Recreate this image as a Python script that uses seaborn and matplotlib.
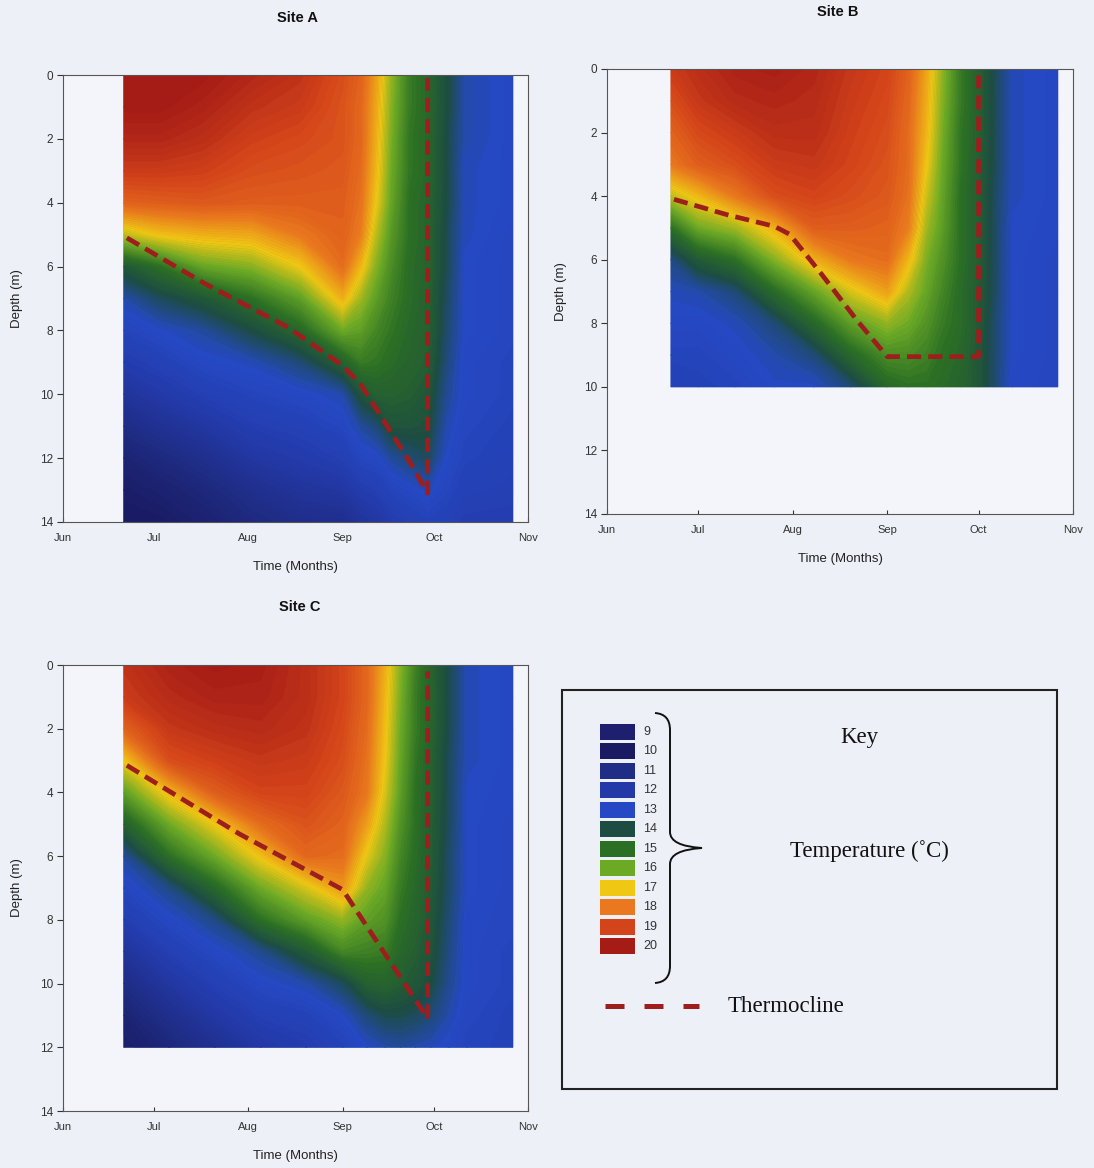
import numpy as np
import matplotlib
matplotlib.use("Agg")
import matplotlib.pyplot as plt
import seaborn as sns
from matplotlib.colors import LinearSegmentedColormap, Normalize
from matplotlib.patches import Rectangle, PathPatch
from matplotlib.path import Path
from matplotlib.lines import Line2D

# ---------------- data ----------------
month_days = [0, 30, 61, 92, 122, 153]          # days since 1 June
month_labels = ["Jun", "Jul", "Aug", "Sep", "Oct", "Nov"]
depth_ticks = [0, 2, 4, 6, 8, 10, 12, 14]

key_temps = [9, 10, 11, 12, 13, 14, 15, 16, 17, 18, 19, 20]
key_colors = ["#1e1f6e", "#1a1a62", "#1f2d86", "#2339a8", "#2549c4", "#1d4c42",
              "#2b6f24", "#6caa26", "#f0c814", "#e9781e", "#d4441a", "#a51c16"]

# Site A: temperature profiles (depth 0..14 m) at each sampling day
a_days = [20, 32, 46, 62, 78, 92, 98, 103, 108, 114, 120, 126, 132, 148]
a_depths = list(range(15))
a_profiles = [
    [20.0, 20.0, 19.7, 19.2, 18.4, 16.6, 14.3, 13.2, 12.7, 12.2, 11.6, 11.0, 10.5, 10.2, 10.05],
    [20.0, 20.0, 19.7, 19.2, 18.5, 17.1, 15.0, 13.8, 13.0, 12.5, 12.0, 11.4, 10.8, 10.4, 10.1],
    [20.0, 19.8, 19.5, 19.1, 18.6, 17.3, 15.9, 14.3, 13.3, 12.9, 12.4, 11.8, 11.2, 10.7, 10.4],
    [19.7, 19.4, 19.1, 18.8, 18.5, 17.4, 16.2, 15.0, 14.0, 13.1, 12.7, 12.3, 11.8, 11.2, 10.8],
    [19.4, 19.2, 18.9, 18.7, 18.5, 18.0, 17.0, 15.8, 14.8, 13.6, 12.9, 12.5, 12.1, 11.6, 11.1],
    [18.8, 18.7, 18.7, 18.6, 18.5, 18.4, 18.2, 17.3, 16.0, 14.6, 13.2, 12.8, 12.4, 11.8, 11.2],
    [18.4, 18.3, 18.3, 18.2, 18.1, 17.9, 17.2, 16.4, 15.8, 15.2, 14.2, 13.3, 12.8, 12.2, 11.6],
    [17.5, 17.4, 17.3, 17.2, 17.0, 16.6, 16.2, 15.8, 15.4, 15.1, 14.6, 13.6, 12.9, 12.4, 11.8],
    [16.3, 16.2, 16.1, 16.0, 15.9, 15.7, 15.5, 15.3, 15.1, 14.9, 14.6, 14.2, 13.3, 12.7, 12.2],
    [15.2, 15.2, 15.1, 15.1, 15.0, 15.0, 14.9, 14.9, 14.8, 14.7, 14.5, 14.2, 13.6, 12.9, 12.4],
    [14.8, 14.8, 14.8, 14.8, 14.7, 14.7, 14.7, 14.6, 14.6, 14.5, 14.3, 14.1, 13.8, 13.1, 12.6],
    [14.1, 14.1, 14.0, 14.0, 14.0, 13.9, 13.9, 13.8, 13.7, 13.6, 13.4, 13.2, 13.0, 12.8, 12.5],
    [13.2, 13.2, 13.2, 13.1, 13.1, 13.1, 13.0, 13.0, 13.0, 12.9, 12.9, 12.8, 12.7, 12.5, 12.3],
    [12.9, 12.9, 12.9, 12.9, 12.9, 12.8, 12.8, 12.8, 12.8, 12.7, 12.7, 12.6, 12.5, 12.4, 12.3],
]
a_thermo_days = [21, 46, 74, 92, 98, 106, 114, 120, 120]
a_thermo_depth = [5.1, 6.5, 7.9, 9.1, 9.7, 10.9, 12.1, 13.1, 0.1]

# Site B: profiles (depth 0..10 m)
b_days = [21, 30, 42, 55, 68, 80, 92, 99, 105, 110, 116, 122, 127, 133, 148]
b_depths = list(range(11))
b_profiles = [
    [19.2, 18.8, 18.4, 18.0, 16.6, 15.0, 13.5, 13.1, 12.9, 12.7, 12.5],
    [19.5, 19.3, 18.9, 18.5, 17.2, 16.0, 14.4, 13.2, 12.9, 12.7, 12.6],
    [19.8, 19.6, 19.2, 18.8, 18.0, 16.4, 15.0, 13.6, 13.1, 12.9, 12.7],
    [19.9, 19.7, 19.5, 19.2, 18.8, 17.3, 16.2, 14.9, 13.6, 13.2, 13.0],
    [19.7, 19.6, 19.5, 19.3, 19.0, 18.5, 17.3, 15.9, 14.8, 13.6, 13.0],
    [19.3, 19.2, 19.1, 19.0, 18.8, 18.5, 18.0, 16.8, 15.8, 14.8, 13.6],
    [19.0, 18.9, 18.8, 18.7, 18.6, 18.4, 18.2, 17.5, 16.3, 15.5, 14.8],
    [18.4, 18.3, 18.2, 18.2, 18.1, 17.9, 17.2, 16.5, 16.0, 15.5, 15.0],
    [17.4, 17.3, 17.2, 17.0, 16.7, 16.4, 16.1, 15.9, 15.6, 15.3, 15.0],
    [16.3, 16.2, 16.1, 16.0, 15.9, 15.8, 15.6, 15.4, 15.2, 15.0, 14.9],
    [15.2, 15.2, 15.1, 15.1, 15.0, 15.0, 15.0, 14.9, 14.9, 14.8, 14.7],
    [14.6, 14.6, 14.6, 14.5, 14.5, 14.5, 14.5, 14.4, 14.4, 14.3, 14.3],
    [13.9, 13.9, 13.9, 13.9, 13.8, 13.8, 13.8, 13.8, 13.7, 13.7, 13.7],
    [13.1, 13.1, 13.1, 13.1, 13.1, 13.0, 13.0, 13.0, 13.0, 13.0, 12.9],
    [12.9, 12.9, 12.9, 12.9, 12.9, 12.9, 12.8, 12.8, 12.8, 12.8, 12.8],
]
b_thermo_days = [22, 40, 55, 60, 70, 82, 92, 122, 122]
b_thermo_depth = [4.1, 4.6, 4.95, 5.2, 6.4, 7.9, 9.05, 9.05, 0.2]

# Site C: profiles (depth 0..12 m)
c_days = [20, 35, 50, 65, 80, 92, 100, 106, 111, 116, 121, 127, 133, 148]
c_depths = list(range(13))
c_profiles = [
    [19.4, 19.2, 18.4, 17.0, 15.8, 14.6, 13.3, 12.8, 12.3, 11.6, 11.0, 10.5, 10.25],
    [19.8, 19.6, 19.3, 18.8, 17.2, 16.0, 15.0, 13.5, 12.9, 12.4, 11.8, 11.2, 10.7],
    [20.0, 19.8, 19.5, 19.1, 18.5, 17.0, 16.0, 14.8, 13.5, 12.9, 12.4, 11.9, 11.3],
    [19.9, 19.8, 19.6, 19.3, 19.0, 18.2, 17.1, 16.0, 15.0, 13.4, 12.9, 12.4, 11.9],
    [19.5, 19.5, 19.4, 19.2, 19.0, 18.7, 18.3, 16.8, 15.8, 14.4, 13.2, 12.6, 12.2],
    [19.0, 19.0, 18.9, 18.8, 18.6, 18.4, 18.2, 17.6, 16.3, 15.4, 13.8, 13.0, 12.6],
    [18.3, 18.3, 18.2, 18.1, 18.0, 17.5, 16.9, 16.3, 15.8, 15.3, 14.6, 13.6, 13.0],
    [17.3, 17.2, 17.1, 17.0, 16.8, 16.5, 16.2, 15.9, 15.6, 15.2, 14.7, 13.9, 13.2],
    [16.2, 16.1, 16.0, 15.9, 15.8, 15.6, 15.4, 15.2, 15.0, 14.8, 14.5, 13.9, 13.3],
    [15.3, 15.2, 15.2, 15.1, 15.0, 15.0, 14.9, 14.8, 14.7, 14.5, 14.3, 13.8, 13.2],
    [14.7, 14.7, 14.7, 14.6, 14.6, 14.5, 14.5, 14.4, 14.3, 14.2, 14.0, 13.6, 13.1],
    [13.9, 13.9, 13.9, 13.8, 13.8, 13.8, 13.7, 13.7, 13.6, 13.5, 13.4, 13.2, 12.9],
    [13.1, 13.1, 13.1, 13.1, 13.0, 13.0, 13.0, 13.0, 12.9, 12.9, 12.9, 12.8, 12.7],
    [12.9, 12.9, 12.9, 12.9, 12.9, 12.8, 12.8, 12.8, 12.8, 12.7, 12.7, 12.6, 12.6],
]
c_thermo_days = [21, 58, 92, 120, 120]
c_thermo_depth = [3.15, 5.3, 7.05, 11.1, 0.2]

# ---------------- style ----------------
sns.set_style("ticks")
plt.rcParams["font.family"] = ["Liberation Sans", "DejaVu Sans"]
BG = "#edf0f6"
THERMO = "#9e1e1e"

W, H = 1094, 1168
fig = plt.figure(figsize=(W / 100, H / 100), dpi=100, facecolor=BG)


def fx(x):
    return x / W


def fy(y):
    return 1 - y / H


cmap = LinearSegmentedColormap.from_list(
    "temp", [((t - 9) / 11, c) for t, c in zip(key_temps, key_colors)])
norm = Normalize(vmin=9, vmax=20)
levels = np.linspace(8.55, 20.55, 121)


def draw_site(px_box, days, depths, profiles, tdays, tdepth, title, title_xy):
    x0, x1, y0, y1 = px_box
    ax = fig.add_axes([fx(x0), fy(y1), (x1 - x0) / W, (y1 - y0) / H])
    ax.set_facecolor("#f3f5fa")
    Z = np.array(profiles).T
    # smooth base layer (fills any seams), then fine contour bands on top
    ax.pcolormesh(days, depths, Z, cmap=cmap, norm=norm, shading="gouraud")
    ax.contourf(days, depths, Z, levels=levels, cmap=cmap, norm=norm,
                extend="both", antialiased=True)
    sns.lineplot(x=tdays, y=tdepth, sort=False, estimator=None, ax=ax,
                 color=THERMO, linewidth=3.4)
    ln = ax.lines[-1]
    ln.set_dashes((3.0, 1.5))
    ln.set_dash_capstyle("butt")
    ax.set_xlim(0, 153)
    ax.set_ylim(14, 0)
    ax.set_xticks(month_days)
    ax.set_xticklabels(month_labels)
    ax.set_yticks(depth_ticks)
    ax.tick_params(axis="x", direction="in", length=3, pad=8, labelsize=8,
                   colors="#333333")
    ax.tick_params(axis="y", direction="out", length=4, pad=3, labelsize=8.5,
                   colors="#333333")
    for s in ax.spines.values():
        s.set_color("#555555")
        s.set_linewidth(0.8)
    ax.set_xlabel("Time (Months)", fontsize=9.5, color="#222222")
    ax.set_ylabel("Depth (m)", fontsize=9.5, color="#222222")
    ax.xaxis.set_label_coords(0.5, -0.088)
    ax.yaxis.set_label_coords(-0.085, 0.5)
    fig.text(fx(title_xy[0]), fy(title_xy[1]), title, ha="center", va="center",
             fontsize=10.5, fontweight="bold", color="#111111")
    return ax


draw_site((63, 528, 75, 522), a_days, a_depths, a_profiles,
          a_thermo_days, a_thermo_depth, "Site A", (298, 18))
draw_site((607, 1073, 69, 514), b_days, b_depths, b_profiles,
          b_thermo_days, b_thermo_depth, "Site B", (838, 12))
draw_site((63, 528, 665, 1111), c_days, c_depths, c_profiles,
          c_thermo_days, c_thermo_depth, "Site C", (300, 607))

# ---------------- key ----------------
box = Rectangle((fx(562), fy(1089)), (1057 - 562) / W, (1089 - 690) / H,
                transform=fig.transFigure, facecolor="none",
                edgecolor="#222222", linewidth=1.5)
fig.patches.append(box)

for i, (t, c) in enumerate(zip(key_temps, key_colors)):
    ytop = 724 + i * 19.45
    sw = Rectangle((fx(600), fy(ytop + 16)), 35 / W, 16 / H,
                   transform=fig.transFigure, facecolor=c, edgecolor="none")
    fig.patches.append(sw)
    fig.text(fx(643), fy(ytop + 8), str(t), ha="left", va="center",
             fontsize=9, color="#333333")

# brace
pts = [(655, 713), (670, 714), (670, 730), (670, 832), (670, 846), (702, 848),
       (670, 850), (670, 864), (670, 966), (670, 982), (655, 983)]
codes = [Path.MOVETO, Path.CURVE3, Path.CURVE3, Path.LINETO, Path.CURVE3,
         Path.CURVE3, Path.CURVE3, Path.CURVE3, Path.LINETO, Path.CURVE3,
         Path.CURVE3]
brace = PathPatch(Path([(fx(x), fy(y)) for x, y in pts], codes),
                  transform=fig.transFigure, facecolor="none",
                  edgecolor="#111111", linewidth=1.4)
fig.patches.append(brace)

serif = ["Liberation Serif", "DejaVu Serif"]
fig.text(fx(859), fy(738), "Key", ha="center", va="center", fontsize=16.5,
         family=serif, color="#111111")
fig.text(fx(869), fy(851), "Temperature (\u02daC)", ha="center", va="center",
         fontsize=16.5, family=serif, color="#111111")
fig.text(fx(786), fy(1006), "Thermocline", ha="center", va="center",
         fontsize=16.5, family=serif, color="#111111")
leg = Line2D([fx(605), fx(699)], [fy(1006), fy(1006)], transform=fig.transFigure,
             color=THERMO, linewidth=3.6, solid_capstyle="butt")
leg.set_dashes((3.8, 4.0))
leg.set_dash_capstyle("butt")
fig.lines.append(leg)

fig.savefig("out.png", dpi=100, facecolor=BG)
